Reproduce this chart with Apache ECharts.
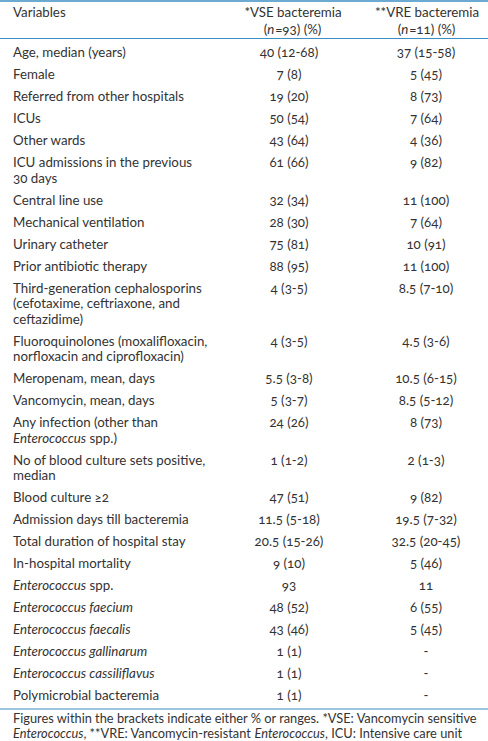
<!DOCTYPE html>
<html><head><meta charset="utf-8">
<script src="https://cdn.jsdelivr.net/npm/echarts@6/dist/echarts.min.js"></script>
<style>
html,body{margin:0;padding:0;background:#fff;}
#c{width:488px;height:741px;}
#c svg text, #c svg tspan{font-feature-settings:"onum" 1 !important; font-variant-numeric: oldstyle-nums !important;}
</style>
</head><body><div id="c"></div>
<script>
const headerVariables = 'Variables';
const headerVSE = '*VSE bacteremia\n({i|n}=93) (%)';
const headerVRE = '**VRE bacteremia\n({i|n}=11) (%)';

const variables = [
  'Age, median (years)',
  'Female',
  'Referred from other hospitals',
  'ICUs',
  'Other wards',
  'ICU admissions in the previous\n30 days',
  'Central line use',
  'Mechanical ventilation',
  'Urinary catheter',
  'Prior antibiotic therapy',
  'Third-generation cephalosporins\n(cefotaxime, ceftriaxone, and\nceftazidime)',
  'Fluoroquinolones (moxalifloxacin,\nnorfloxacin and ciprofloxacin)',
  'Meropenam, mean, days',
  'Vancomycin, mean, days',
  'Any infection (other than\n{i|Enterococcus} spp.)',
  'No of blood culture sets positive,\nmedian',
  'Blood culture \u22652',
  'Admission days till bacteremia',
  'Total duration of hospital stay',
  'In-hospital mortality',
  '{i|Enterococcus} spp.',
  '{i|Enterococcus faecium}',
  '{i|Enterococcus faecalis}',
  '{i|Enterococcus gallinarum}',
  '{i|Enterococcus cassiliflavus}',
  'Polymicrobial bacteremia'
];
const vseValues = [
  '40 (12-68)', '7 (8)', '19 (20)', '50 (54)', '43 (64)', '61 (66)', '32 (34)', '28 (30)',
  '75 (81)', '88 (95)', '4 (3-5)', '4 (3-5)', '5.5 (3-8)', '5 (3-7)', '24 (26)', '1 (1-2)',
  '47 (51)', '11.5 (5-18)', '20.5 (15-26)', '9 (10)', '93', '48 (52)', '43 (46)', '1 (1)', '1 (1)', '1 (1)'
];
const vreValues = [
  '37 (15-58)', '5 (45)', '8 (73)', '7 (64)', '4 (36)', '9 (82)', '11 (100)', '7 (64)',
  '10 (91)', '11 (100)', '8.5 (7-10)', '4.5 (3-6)', '10.5 (6-15)', '8.5 (5-12)', '8 (73)', '2 (1-3)',
  '9 (82)', '19.5 (7-32)', '32.5 (20-45)', '5 (46)', '11', '6 (55)', '5 (45)', '-', '-', '-'
];
const footnote = 'Figures within the brackets indicate either % or ranges. *VSE: Vancomycin sensitive\n{i|Enterococcus}, **VRE: Vancomycin-resistant {i|Enterococcus}, ICU: Intensive care unit';

// layout constants
const W = 488, H = 741;
const FONT = 'Lato, "Noto Sans", sans-serif';
const TEXT = '#333333';
const RULE = '#3b8ec2';
const FS = 13.3;
const LH = 15.5;       // line height inside a cell
const ROW = 22;        // single-line row pitch
const BODY_TOP = 52;   // centre of first line of first row
const COL_X = [13, 289, 426];
const HEAD_X = [13, 293, 427];

// row first-line centres, from line counts
const rowCenter = [];
let yc = BODY_TOP;
variables.forEach(function (v) {
  rowCenter.push(yc);
  const n = v.split('\n').length;
  yc += ROW + (n - 1) * LH;
});

function rich(fs, lh) {
  return { i: { fontStyle: 'italic', fontSize: fs, fontFamily: FONT, fill: TEXT, lineHeight: lh } };
}

function cellText(str, x, yTop, align, fs, lh) {
  return {
    type: 'text',
    style: {
      text: str, x: x, y: yTop, align: align, verticalAlign: 'top',
      fill: TEXT, fontSize: fs, fontFamily: FONT, lineHeight: lh,
      rich: rich(fs, lh)
    }
  };
}

const chart = echarts.init(document.getElementById('c'), null, { renderer: 'svg', width: W, height: H });

chart.setOption({
  animation: false,
  backgroundColor: '#ffffff',
  grid: { left: 0, right: 0, top: 0, bottom: 0 },
  xAxis: { type: 'value', min: 0, max: W, show: false },
  yAxis: { type: 'value', min: 0, max: H, inverse: true, show: false },
  series: [{
    type: 'custom',
    data: variables.map(function (v, i) { return [i]; }),
    renderItem: function (params, api) {
      const i = api.value(0);
      const top = rowCenter[i] - LH / 2;
      const p0 = api.coord([COL_X[0], top]);
      const p1 = api.coord([COL_X[1], top]);
      const p2 = api.coord([COL_X[2], top]);
      return {
        type: 'group',
        children: [
          cellText(variables[i], p0[0], p0[1], 'left', FS, LH),
          cellText(vseValues[i], p1[0], p1[1], 'center', FS, LH),
          cellText(vreValues[i], p2[0], p2[1], 'center', FS, LH)
        ]
      };
    }
  }],
  graphic: [
    { type: 'line', shape: { x1: 0, y1: 1, x2: W, y2: 1 }, style: { stroke: RULE, lineWidth: 1.5 } },
    { type: 'line', shape: { x1: 0, y1: 38.5, x2: W, y2: 38.5 }, style: { stroke: RULE, lineWidth: 1.2 } },
    { type: 'line', shape: { x1: 0, y1: 709, x2: W, y2: 709 }, style: { stroke: RULE, lineWidth: 1.2 } },
    cellText(headerVariables, HEAD_X[0], 12 - LH / 2, 'left', FS, LH),
    cellText(headerVSE, HEAD_X[1], 12 - 17 / 2, 'center', FS, 17),
    cellText(headerVRE, HEAD_X[2], 12 - 17 / 2, 'center', FS, 17),
    cellText(footnote, 13, 717.5 - 15.4 / 2, 'left', 12.8, 15.4)
  ]
});
</script>
</body></html>
